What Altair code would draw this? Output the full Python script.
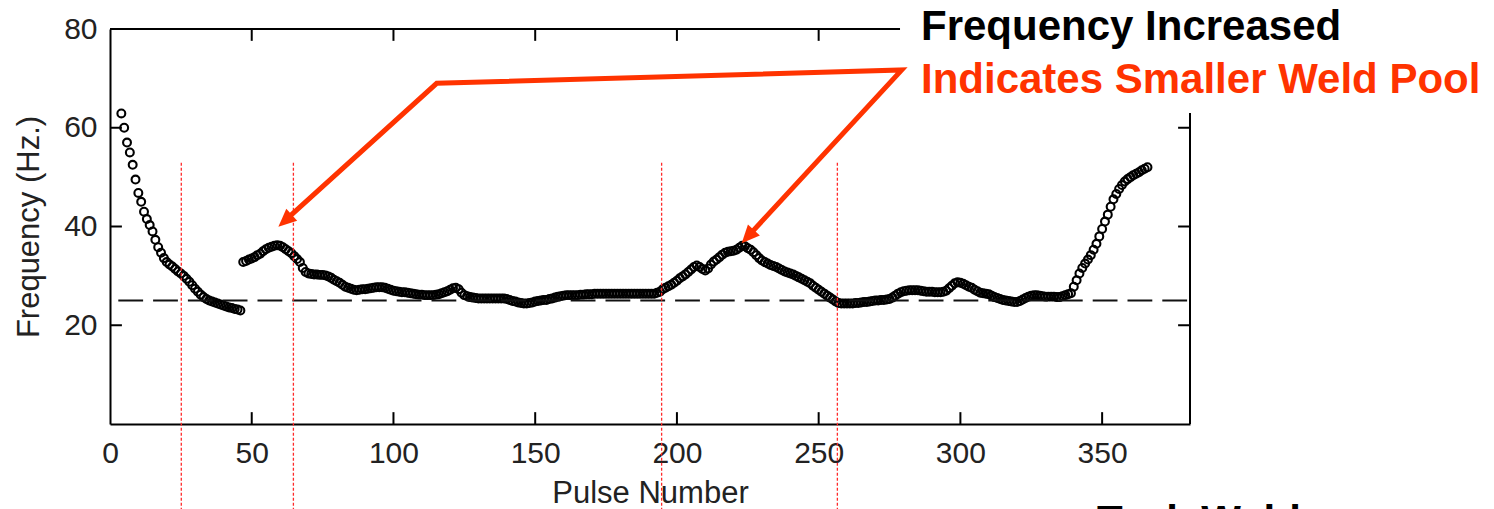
import altair as alt
import pandas as pd

# ---------------- data ----------------
pulse_start_a = 4
freq_a = [
    62.9, 60.0, 57.0, 55.0, 52.5, 49.5, 46.8, 45.0, 43.0, 41.5,
    40.3, 39.0, 37.3, 35.8, 34.7, 33.6, 32.8, 32.3, 31.9, 31.4,
    30.9, 30.5, 30.0, 29.4, 28.8, 28.1, 27.4, 26.8, 26.2, 25.7,
    25.3, 25.0, 24.8, 24.6, 24.4, 24.2, 24.0, 23.8, 23.6, 23.5,
    23.3, 23.2, 23.0,
]
pulse_start_b = 47
freq_b = [
    32.8, 33.0, 33.3, 33.5, 33.8, 34.2, 34.5, 35.0, 35.4, 35.7,
    35.9, 36.1, 36.2, 36.1, 35.8, 35.4, 35.0, 34.6, 34.0, 33.4,
    32.8, 31.6, 30.8, 30.5, 30.4, 30.3, 30.3, 30.2, 30.2, 30.1,
    29.9, 29.6, 29.2, 28.9, 28.6, 28.2, 27.8, 27.6, 27.4, 27.2,
    27.1, 27.2, 27.3, 27.3, 27.4, 27.5, 27.6, 27.7, 27.7, 27.7,
    27.6, 27.4, 27.2, 27.0, 26.9, 26.8, 26.7, 26.7, 26.6, 26.5,
    26.4, 26.3, 26.2, 26.2, 26.1, 26.1, 26.1, 26.1, 26.2, 26.3,
    26.5, 26.7, 26.9, 27.2, 27.5, 27.6, 27.3, 26.6, 26.1, 25.9,
    25.7, 25.6, 25.5, 25.4, 25.4, 25.4, 25.4, 25.4, 25.4, 25.4,
    25.4, 25.4, 25.4, 25.3, 25.1, 24.9, 24.8, 24.6, 24.5, 24.4,
    24.4, 24.5, 24.6, 24.8, 24.9, 25.0, 25.1, 25.1, 25.3, 25.4,
    25.6, 25.8, 25.9, 26.0, 26.1, 26.1, 26.1, 26.1, 26.1, 26.2,
    26.2, 26.3, 26.3, 26.3, 26.4, 26.4, 26.4, 26.4, 26.4, 26.4,
    26.4, 26.4, 26.4, 26.4, 26.4, 26.4, 26.4, 26.4, 26.4, 26.4,
    26.4, 26.4, 26.4, 26.4, 26.4, 26.4, 26.6, 26.8, 27.3, 27.6,
    27.9, 28.2, 28.6, 29.0, 29.5, 29.9, 30.3, 30.8, 31.3, 31.8,
    32.1, 31.8, 31.4, 31.1, 31.5, 32.3, 32.9, 33.3, 33.8, 34.3,
    34.7, 34.9, 35.0, 35.1, 35.3, 35.7, 36.1, 36.0, 35.6, 35.3,
    34.8, 34.2, 33.6, 33.1, 32.8, 32.5, 32.2, 32.0, 31.8, 31.5,
    31.2, 30.9, 30.7, 30.5, 30.3, 30.0, 29.7, 29.4, 29.1, 28.8,
    28.5, 28.0, 27.6, 27.2, 26.8, 26.4, 26.0, 25.6, 25.2, 24.8,
    24.5, 24.4, 24.4, 24.4, 24.4, 24.4, 24.5, 24.5, 24.6, 24.7,
    24.7, 24.8, 24.9, 25.0, 25.0, 25.1, 25.1, 25.2, 25.3, 25.6,
    26.0, 26.4, 26.7, 26.9, 27.0, 27.1, 27.1, 27.1, 27.1, 27.0,
    26.9, 26.8, 26.8, 26.8, 26.7, 26.7, 26.7, 26.8, 27.0, 27.5,
    28.0, 28.5, 28.7, 28.6, 28.4, 28.1, 27.8, 27.6, 27.2, 26.9,
    26.6, 26.5, 26.4, 26.3, 26.0, 25.7, 25.5, 25.3, 25.1, 25.0,
    24.9, 24.8, 24.7, 24.7, 24.9, 25.2, 25.5, 25.8, 26.0, 26.1,
    26.1, 26.0, 25.9, 25.8, 25.8, 25.8, 25.8, 25.7, 25.7, 25.9,
    26.1, 26.3, 26.5, 27.8, 29.1, 30.5, 31.6, 32.5, 33.3, 34.2,
    35.3, 36.5, 38.0, 39.5, 41.0, 42.4, 44.0, 45.5, 46.6, 47.6,
    48.4, 49.1, 49.6, 50.0, 50.4, 50.7, 51.0, 51.4, 51.7, 52.0,
]

x_domain = [0, 381]
y_domain = [0, 80]
x_label_values = [0, 50, 100, 150, 200, 250, 300, 350]
x_tick_values = [50, 100, 150, 200, 250, 300, 350]
y_label_values = [20, 40, 60, 80]
y_tick_values = [20, 40, 60]
tick_len_y = 2.4   # inward tick length in y units
tick_len_x = 4.2   # inward tick length in x units

reference_level = 25
marker_x = [25.15, 64.7, 194.6, 256.6]
marker_top = 52.9
marker_bottom = -20

arrow_x = [62.5, 115.25, 279.3, 225.7]
arrow_y = [41.6, 69.0, 71.7, 38.4]
tip_x = [59.4, 222.85]
tip_y = [39.96, 36.6]
tip_angle = [228, 222.7]

note_lines = ["Frequency Increased", "Indicates Smaller Weld Pool"]
note_colors = ["#000000", "#ff3300"]
note_x = [286.1, 286.1]
note_y = [77.8, 67.0]
bottom_note = "Tack Weld"
bottom_note_x = 348.2
bottom_note_y = -22.5

RED = "#ff3300"
FONT = "Liberation Sans"

x_axis = alt.Axis(values=x_label_values, title="Pulse Number", ticks=False, grid=False,
                  domainColor="black", domainWidth=2, labelFont=FONT, labelFontSize=30,
                  labelColor="#222", labelPadding=14, labelFlush=False, labelOverlap=False,
                  titleFont=FONT, titleFontSize=31, titleFontWeight="normal", titleColor="#222",
                  titlePadding=10)
y_axis = alt.Axis(values=y_label_values, title="Frequency (Hz.)", ticks=False, grid=False,
                  domainColor="black", domainWidth=2, labelFont=FONT, labelFontSize=30,
                  labelColor="#222", labelPadding=13, labelFlush=False, labelOverlap=False,
                  titleFont=FONT, titleFontSize=31, titleFontWeight="normal", titleColor="#222",
                  titlePadding=18)


# ---------------- helpers ----------------
def X(field="x"):
    return alt.X(f"{field}:Q", scale=alt.Scale(domain=x_domain, nice=False, zero=False), axis=x_axis)


def Y(field="y"):
    return alt.Y(f"{field}:Q", scale=alt.Scale(domain=y_domain, nice=False, zero=False), axis=y_axis)


# ---------------- layers ----------------
pts = pd.DataFrame({
    "x": list(range(pulse_start_a, pulse_start_a + len(freq_a))) +
         list(range(pulse_start_b, pulse_start_b + len(freq_b))),
    "y": freq_a + freq_b,
})

points = alt.Chart(pts).mark_point(shape="circle", filled=False, color="black",
                                   size=62, strokeWidth=2.1, opacity=1).encode(x=X(), y=Y())

# inward ticks
bt = pd.DataFrame({"x": x_tick_values, "y": [0] * len(x_tick_values), "y2": [tick_len_y] * len(x_tick_values)})
tt = pd.DataFrame({"x": x_tick_values, "y": [80] * len(x_tick_values), "y2": [80 - tick_len_y] * len(x_tick_values)})
lt = pd.DataFrame({"y": y_tick_values, "x": [0] * 3, "x2": [tick_len_x] * 3})
rt = pd.DataFrame({"y": y_tick_values, "x": [x_domain[1]] * 3, "x2": [x_domain[1] - tick_len_x] * 3})

tick_style = dict(color="black", strokeWidth=2)
ticks = (
    alt.Chart(bt).mark_rule(**tick_style).encode(x=X(), y=Y(), y2="y2:Q") +
    alt.Chart(tt).mark_rule(**tick_style).encode(x=X(), y=Y(), y2="y2:Q") +
    alt.Chart(lt).mark_rule(**tick_style).encode(y=Y(), x=X(), x2="x2:Q") +
    alt.Chart(rt).mark_rule(**tick_style).encode(y=Y(), x=X(), x2="x2:Q")
)

borders_top = alt.Chart(pd.DataFrame({"x": [0], "x2": [x_domain[1]], "y": [80]})).mark_rule(
    color="black", strokeWidth=2).encode(x=X(), x2="x2:Q", y=Y())
borders_right = alt.Chart(pd.DataFrame({"x": [x_domain[1]], "y": [0], "y2": [80]})).mark_rule(
    color="black", strokeWidth=2).encode(x=X(), y=Y(), y2="y2:Q")

ref_line = alt.Chart(pd.DataFrame({"x": [0], "x2": [x_domain[1]], "y": [reference_level]})).mark_rule(
    color="#111", strokeWidth=2, strokeDash=[24.8, 10], strokeDashOffset=26.5).encode(
    x=X(), x2="x2:Q", y=Y())

markers = alt.Chart(pd.DataFrame({"x": marker_x, "y": [marker_top] * 4, "y2": [marker_bottom] * 4})).mark_rule(
    color="#ff2a2a", strokeWidth=1.3, strokeDash=[3, 2]).encode(x=X(), y=Y(), y2="y2:Q")

cover = alt.Chart(pd.DataFrame({"x": [278.7], "x2": [500], "y": [63.0], "y2": [95]})).mark_rect(
    color="white").encode(x=X(), x2="x2:Q", y=Y(), y2="y2:Q")

arrow_df = pd.DataFrame({"x": arrow_x, "y": arrow_y, "o": list(range(len(arrow_x)))})
arrow_line = alt.Chart(arrow_df).mark_line(color=RED, strokeWidth=5, strokeJoin="miter").encode(
    x=X(), y=Y(), order="o:Q")

tips = alt.Chart(pd.DataFrame({"x": tip_x, "y": tip_y, "a": tip_angle})).mark_point(
    shape="M0,0L-0.45,1L0.45,1Z", filled=True, color=RED, size=1296, opacity=1, strokeWidth=0).encode(
    x=X(), y=Y(), angle=alt.Angle("a:Q", scale=None))

notes = alt.Chart(pd.DataFrame({"x": note_x, "y": note_y, "t": note_lines, "c": note_colors})).mark_text(
    font=FONT, fontSize=42, fontWeight="bold", align="left", baseline="alphabetic").encode(
    x=X(), y=Y(), text="t:N", color=alt.Color("c:N", scale=None))

bottom = alt.Chart(pd.DataFrame({"x": [bottom_note_x], "y": [bottom_note_y], "t": [bottom_note]})).mark_text(
    font=FONT, fontSize=42, fontWeight="bold", align="left", baseline="alphabetic", color="black").encode(
    x=X(), y=Y(), text="t:N")

chart = alt.layer(
    points, ref_line, ticks, borders_top, borders_right, markers, cover, arrow_line, tips, notes, bottom
).properties(
    width=1080, height=395,
    autosize=alt.AutoSizeParams(type="none"),
    padding={"left": 102, "top": 21, "right": 296, "bottom": 85},
).configure_view(stroke=None)

chart.save("out.html", embed_options={"renderer": "svg", "actions": False})
